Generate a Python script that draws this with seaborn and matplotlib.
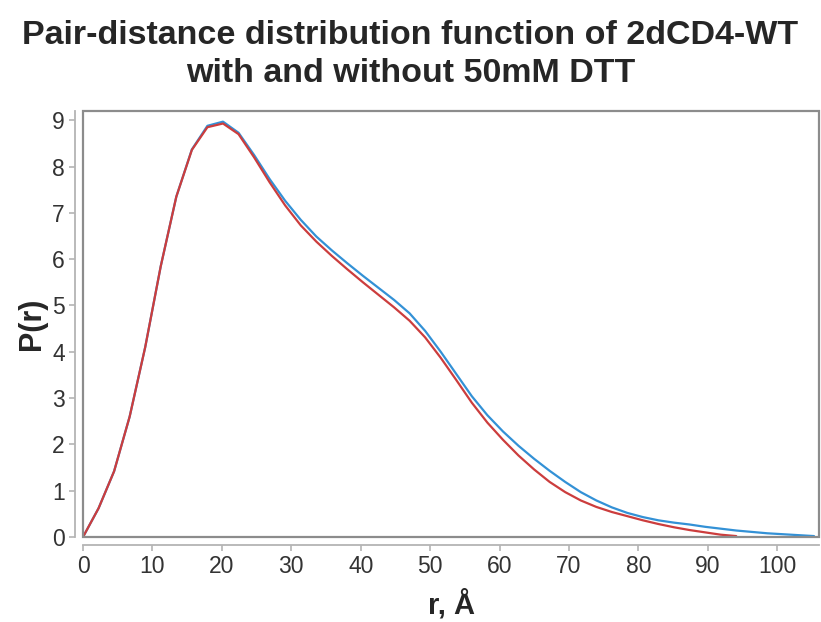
import numpy as np
import pandas as pd
import matplotlib
matplotlib.use("Agg")
import matplotlib.pyplot as plt
from matplotlib.patches import Rectangle
import seaborn as sns

# Distance grid (Å) and P(r) for the two samples
r_blue = [0.00, 2.24, 4.48, 6.72, 8.96, 11.20, 13.44, 15.68, 17.92, 20.16,
          22.40, 24.64, 26.88, 29.12, 31.36, 33.60, 35.84, 38.08, 40.32, 42.56,
          44.80, 47.04, 49.28, 51.52, 53.76, 56.00, 58.24, 60.48, 62.72, 64.96,
          67.20, 69.44, 71.68, 73.92, 76.16, 78.40, 80.64, 82.88, 85.12, 87.36,
          89.60, 91.84, 94.08, 96.32, 98.56, 100.80, 103.04, 105.28]
p_blue = [0.00, 0.62, 1.42, 2.60, 4.10, 5.85, 7.35, 8.37, 8.88, 8.97,
          8.73, 8.25, 7.73, 7.26, 6.85, 6.49, 6.19, 5.91, 5.64, 5.38,
          5.12, 4.83, 4.45, 4.00, 3.52, 3.04, 2.63, 2.28, 1.97, 1.69,
          1.43, 1.19, 0.97, 0.79, 0.64, 0.52, 0.43, 0.36, 0.31, 0.27,
          0.22, 0.18, 0.14, 0.11, 0.08, 0.06, 0.04, 0.02]

r_red = r_blue[:43]
p_red = [0.00, 0.62, 1.42, 2.60, 4.10, 5.85, 7.35, 8.36, 8.85, 8.93,
         8.70, 8.20, 7.66, 7.16, 6.73, 6.38, 6.07, 5.78, 5.50, 5.23,
         4.96, 4.67, 4.31, 3.87, 3.39, 2.90, 2.47, 2.10, 1.76, 1.46,
         1.19, 0.97, 0.79, 0.65, 0.54, 0.45, 0.36, 0.28, 0.21, 0.15,
         0.10, 0.05, 0.02]

x_ticks = [0, 10, 20, 30, 40, 50, 60, 70, 80, 90, 100]
y_ticks = [0, 1, 2, 3, 4, 5, 6, 7, 8, 9]

df = pd.concat([
    pd.DataFrame({"r": r_blue, "P": p_blue, "sample": "2dCD4-WT"}),
    pd.DataFrame({"r": r_red, "P": p_red, "sample": "2dCD4-WT + 50mM DTT"}),
], ignore_index=True)

sns.set_style("white")
plt.rcParams["font.family"] = ["Liberation Sans", "DejaVu Sans"]

fig = plt.figure(figsize=(8.21, 6.22), dpi=100)
ax = fig.add_axes([83 / 821, 85 / 622, 736 / 821, 426 / 622])

sns.lineplot(data=df, x="r", y="P", hue="sample",
             palette={"2dCD4-WT": "#3391d6", "2dCD4-WT + 50mM DTT": "#cc3d3d"},
             linewidth=1.6, legend=False, ax=ax, sort=False)

ax.set_xlim(0, 106)
ax.set_ylim(0, 9.2)
ax.set_xticks(x_ticks)
ax.set_yticks(y_ticks)
ax.set_xticklabels([str(t) for t in x_ticks])
ax.set_yticklabels([str(t) for t in y_ticks])

# Offset axis lines, plus a box frame around the plotting area
sns.despine(ax=ax, offset=6, top=True, right=True)
for side in ("left", "bottom"):
    ax.spines[side].set_color("#b4b4b4")
    ax.spines[side].set_linewidth(1.3)
ax.spines["left"].set_bounds(0, 9.2)
ax.spines["bottom"].set_bounds(0, 106)
ax.add_patch(Rectangle((0, 0), 1, 1, transform=ax.transAxes, fill=False,
                       edgecolor="#8c8c8c", linewidth=1.6, clip_on=False,
                       zorder=5))

ax.tick_params(axis="both", which="major", direction="out", length=4,
               width=1.2, color="#b4b4b4", labelsize=16.5, labelcolor="#333333",
               pad=3, left=True, bottom=True)

ax.set_xlabel("r, Å", fontsize=21, fontweight="bold", labelpad=8)
ax.set_ylabel("P(r)", fontsize=22, fontweight="bold", labelpad=4)

fig.suptitle("Pair-distance distribution function of 2dCD4-WT\nwith and without 50mM DTT",
             fontsize=24.5, fontweight="bold", y=0.968, va="top", linespacing=1.28)

fig.savefig("out.png", dpi=100)
